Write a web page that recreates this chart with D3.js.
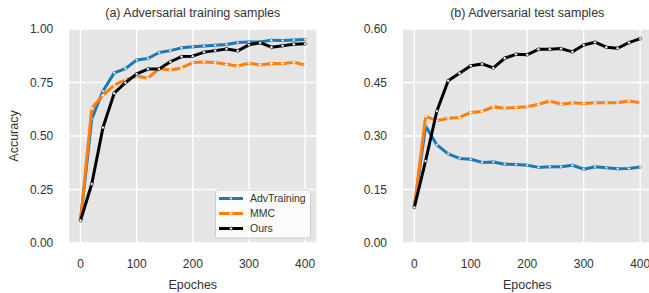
<!DOCTYPE html>
<html>
<head>
<meta charset="utf-8">
<script src="https://cdn.jsdelivr.net/npm/d3@7"></script>
<style>
  body { margin: 0; background: #fff; }
  text { font-family: "Liberation Sans", Arial, sans-serif; fill: #333; }
</style>
</head>
<body>
<svg width="649" height="293"></svg>
<script>
const epochs = d3.range(0, 401, 20);

const trainAdv = [0.105, 0.58, 0.71, 0.795, 0.815, 0.855, 0.862, 0.89, 0.899, 0.912, 0.917,
    0.921, 0.924, 0.928, 0.937, 0.939, 0.939, 0.948, 0.946, 0.949, 0.951];
const trainMMC = [0.105, 0.63, 0.69, 0.738, 0.762, 0.78, 0.77, 0.815, 0.808, 0.818, 0.843,
    0.846, 0.843, 0.835, 0.827, 0.840, 0.832, 0.839, 0.838, 0.845, 0.832];
const trainOurs = [0.105, 0.276, 0.54, 0.70, 0.749, 0.79, 0.813, 0.813, 0.847, 0.871, 0.873,
    0.892, 0.899, 0.907, 0.898, 0.926, 0.936, 0.915, 0.922, 0.929, 0.931];

const testAdv = [0.10, 0.328, 0.275, 0.25, 0.237, 0.235, 0.226, 0.227, 0.221, 0.220, 0.218,
    0.212, 0.214, 0.214, 0.218, 0.207, 0.214, 0.211, 0.208, 0.209, 0.213];
const testMMC = [0.10, 0.355, 0.343, 0.350, 0.352, 0.366, 0.369, 0.382, 0.378, 0.380, 0.382,
    0.389, 0.398, 0.389, 0.393, 0.391, 0.393, 0.393, 0.393, 0.398, 0.393];
const testOurs = [0.10, 0.23, 0.37, 0.455, 0.476, 0.497, 0.502, 0.491, 0.518, 0.529, 0.528,
    0.543, 0.543, 0.545, 0.536, 0.555, 0.563, 0.549, 0.546, 0.562, 0.573];

const seriesNames = ['AdvTraining', 'MMC', 'Ours'];
const xTicks = [0, 100, 200, 300, 400];
const yTicksTrain = [0, 0.25, 0.5, 0.75, 1.0];
const yTicksTest = [0, 0.15, 0.3, 0.45, 0.6];

const colorScale = d3.scaleOrdinal()
    .domain(seriesNames)
    .range(['#1f77b4', '#ff7f0e', '#000000']);

const svg = d3.select('svg');

const plotTop = 29, plotBottom = 243;

const drawMarkers = (sel, pts, name) => {
    if (name === 'MMC') {
        sel.selectAll('.m').data(pts).enter().append('path')
            .attr('d', d => `M${d[0] - 1.8},${d[1]}H${d[0] + 1.8}M${d[0]},${d[1] - 1.8}V${d[1] + 1.8}`)
            .attr('stroke', '#fff').attr('stroke-width', 0.9);
    } else {
        sel.selectAll('.m').data(pts).enter().append('circle')
            .attr('cx', d => d[0]).attr('cy', d => d[1])
            .attr('r', name === 'Ours' ? 1.5 : 1.3)
            .attr('fill', '#fff')
            .attr('stroke', colorScale(name)).attr('stroke-width', 0.5);
    }
};

const drawLegend = g => {
    const lg = g.append('g');
    lg.append('rect')
        .attr('x', 215.5).attr('y', 190)
        .attr('width', 95).attr('height', 48)
        .attr('rx', 2.5)
        .attr('fill', '#fff').attr('fill-opacity', 0.85)
        .attr('stroke', '#ccc').attr('stroke-width', 1);
    seriesNames.forEach((name, i) => {
        const yy = 198.5 + i * 15;
        lg.append('line')
            .attr('x1', 219).attr('x2', 243)
            .attr('y1', yy).attr('y2', yy)
            .attr('stroke', colorScale(name)).attr('stroke-width', 3);
        drawMarkers(lg.append('g'), [[231, yy]], name);
        lg.append('text')
            .attr('x', 250).attr('y', yy + 3.8)
            .attr('font-size', 10.5)
            .text(name);
    });
};

const drawPanel = ({ left, right, yMax, yTicks, title, series, ylabel, legend }) => {
    const x = d3.scaleLinear().domain([-20, 420]).range([left, right]);
    const y = d3.scaleLinear().domain([0, yMax]).range([plotBottom, plotTop]);
    const g = svg.append('g');

    g.append('rect')
        .attr('x', left).attr('y', plotTop)
        .attr('width', right - left).attr('height', plotBottom - plotTop)
        .attr('fill', '#e5e5e5');

    // grid
    g.selectAll('.vgrid').data(xTicks).enter().append('line')
        .attr('x1', d => x(d)).attr('x2', d => x(d))
        .attr('y1', plotTop).attr('y2', plotBottom)
        .attr('stroke', '#fff').attr('stroke-width', 1.3);
    g.selectAll('.hgrid').data(yTicks).enter().append('line')
        .attr('x1', left).attr('x2', right)
        .attr('y1', d => y(d)).attr('y2', d => y(d))
        .attr('stroke', '#fff').attr('stroke-width', 1.3);

    // tick labels
    g.selectAll('.xt').data(xTicks).enter().append('text')
        .attr('x', d => x(d)).attr('y', 267.5)
        .attr('text-anchor', 'middle').attr('font-size', 12)
        .text(d => d);
    g.selectAll('.yt').data(yTicks).enter().append('text')
        .attr('x', left - 16).attr('y', d => y(d) + 4.3)
        .attr('text-anchor', 'end').attr('font-size', 12)
        .text(d3.format('.2f'));

    g.append('text')
        .attr('x', (left + right) / 2).attr('y', 16.5)
        .attr('text-anchor', 'middle').attr('font-size', 12.5)
        .text(title);
    g.append('text')
        .attr('x', x(200)).attr('y', 288.5)
        .attr('text-anchor', 'middle').attr('font-size', 12.5)
        .text('Epoches');
    if (ylabel) {
        g.append('text')
            .attr('transform', `translate(17.5,${(plotTop + plotBottom) / 2}) rotate(-90)`)
            .attr('text-anchor', 'middle').attr('font-size', 12.5)
            .text(ylabel);
    }

    const clip = 'clip' + Math.round(left);
    g.append('clipPath').attr('id', clip)
        .append('rect').attr('x', left).attr('y', plotTop - 5)
        .attr('width', right - left).attr('height', plotBottom - plotTop + 10);

    const line = d3.line().x((d, i) => x(epochs[i])).y(d => y(d));

    series.forEach((values, k) => {
        const name = seriesNames[k];
        const s = g.append('g').attr('clip-path', `url(#${clip})`);
        s.append('path')
            .attr('d', line(values))
            .attr('fill', 'none')
            .attr('stroke', colorScale(name))
            .attr('stroke-width', 3)
            .attr('stroke-linejoin', 'round');
        drawMarkers(s, values.map((v, i) => [x(epochs[i]), y(v)]), name);
    });

    if (legend) drawLegend(g);
};

drawPanel({
    left: 69.3, right: 316.3, yMax: 1.0, yTicks: yTicksTrain,
    title: '(a) Adversarial training samples',
    series: [trainAdv, trainMMC, trainOurs],
    ylabel: 'Accuracy', legend: true
});

drawPanel({
    left: 403, right: 651.5, yMax: 0.6, yTicks: yTicksTest,
    title: '(b) Adversarial test samples',
    series: [testAdv, testMMC, testOurs],
    ylabel: null, legend: false
});
</script>
</body>
</html>
